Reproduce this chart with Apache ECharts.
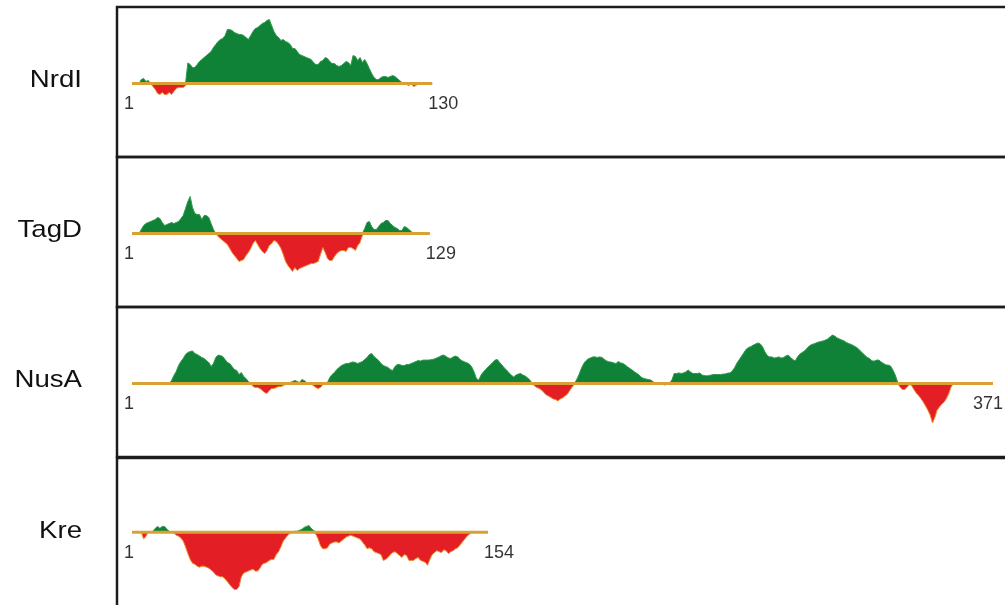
<!DOCTYPE html>
<html>
<head>
<meta charset="utf-8">
<script src="https://cdn.jsdelivr.net/npm/echarts@6/dist/echarts.min.js"></script>
<style>
  html, body { margin: 0; padding: 0; background: #fff; }
  #chart { width: 1005px; height: 605px; }
</style>
</head>
<body>
<div id="chart"></div>
<script>
// Per-residue profile scores (positive = green, negative = red)
const proteins = ['NrdI', 'TagD', 'NusA', 'Kre'];

const nrdI = [
  0, 0, 0, 0, 0.2, 0.25, 0.1, 0.15, 0, -0.15,
  -0.3, -0.5, -0.55, -0.45, -0.55, -0.55, -0.45, -0.55, -0.4, -0.25,
  -0.2, -0.2, -0.2, -0.1, 1.03, 0.95, 0.8, 0.8, 0.95, 1.1,
  1.2, 1.3, 1.4, 1.5, 1.6, 1.8, 1.95, 2.1, 2.2, 2.25,
  2.4, 2.7, 2.7, 2.65, 2.55, 2.5, 2.45, 2.45, 2.4, 2.3,
  2.2, 2.4, 2.6, 2.75, 2.8, 2.9, 3.0, 3.05, 3.15, 3.2,
  2.9, 2.6, 2.4, 2.3, 2.15, 2.2, 2.1, 2.05, 1.95, 1.75,
  1.75, 1.6, 1.45, 1.4, 1.35, 1.3, 1.25, 1.2, 1.05, 0.95,
  0.95, 1.1, 1.15, 1.3, 1.25, 1.1, 1.0, 1.0, 0.9, 0.85,
  0.9, 1.0, 1.1, 1.05, 0.9, 1.4, 1.35, 1.15, 1.3, 1.05,
  1.2, 1.0, 0.75, 0.5, 0.3, 0.2, 0.2, 0.3, 0.35, 0.35,
  0.3, 0.35, 0.4, 0.35, 0.25, 0.15, 0.05, 0, -0.05, -0.1,
  0, -0.15, -0.1, 0, 0, 0, 0, 0, 0, 0
];

const tagD = [
  0, 0, 0, 0, 0.2, 0.4, 0.5, 0.55, 0.6, 0.65,
  0.7, 0.8, 0.75, 0.55, 0.4, 0.45, 0.5, 0.55, 0.5, 0.55,
  0.6, 0.75, 0.9, 1.25, 1.6, 1.85, 1.3, 1.0, 0.95, 0.95,
  0.7, 0.9, 0.9, 0.8, 0.5, 0.2, 0, -0.15, -0.25, -0.35,
  -0.45, -0.55, -0.75, -0.95, -1.1, -1.25, -1.4, -1.35, -1.3, -1.1,
  -0.95, -0.75, -0.5, -0.35, -0.55, -0.75, -0.9, -1.0, -0.85, -0.6,
  -0.5, -0.35, -0.4, -0.55, -0.75, -1.05, -1.4, -1.6, -1.75, -1.9,
  -1.7, -1.85, -1.75, -1.7, -1.65, -1.6, -1.55, -1.5, -1.5, -1.45,
  -1.4, -1.05, -0.7, -0.95, -1.25, -1.35, -1.35, -1.15, -1.0, -0.9,
  -0.85, -0.85, -0.9, -0.7, -0.7, -0.75, -0.85, -0.6, -0.45, -0.1,
  0.25, 0.55, 0.6, 0.35, 0.2, 0.2, 0.35, 0.5, 0.55, 0.65,
  0.65, 0.5, 0.4, 0.3, 0.25, 0.15, 0.15, 0.35, 0.3, 0.2,
  0.1, 0, 0, 0, 0, 0, 0, 0, 0
];

const nusA = [
  0, 0, 0, 0, 0, 0, 0, 0, 0, 0,
  0, 0, 0, 0, 0, 0, 0, 0.15, 0.4, 0.6,
  0.9, 1.1, 1.25, 1.45, 1.55, 1.6, 1.63, 1.5, 1.45, 1.38,
  1.3, 1.25, 1.15, 1.05, 0.85, 1.0, 1.3, 1.42, 1.4, 1.35,
  1.2, 1.05, 1.0, 0.85, 0.7, 0.65, 0.45, 0.55, 0.35, 0.25,
  0.1, 0, -0.15, -0.2, -0.2, -0.25, -0.35, -0.45, -0.5, -0.35,
  -0.25, -0.25, -0.2, -0.15, -0.15, -0.1, -0.05, 0, 0.05, 0.1,
  0.15, 0.1, 0.05, 0.2, 0.15, 0.05, 0, -0.05, -0.1, -0.2,
  -0.25, -0.2, -0.05, 0, 0.05, 0.3, 0.45, 0.55, 0.7, 0.8,
  0.9, 0.95, 1.0, 1.0, 1.05, 1.08, 1.05, 1.0, 1.05, 1.1,
  1.2, 1.3, 1.45, 1.5, 1.35, 1.25, 1.15, 1.0, 0.9, 0.85,
  0.8, 0.7, 0.65, 0.85, 0.95, 0.95, 0.9, 0.9, 0.95, 0.95,
  1.0, 1.05, 1.1, 1.15, 1.12, 1.17, 1.17, 1.17, 1.18, 1.2,
  1.23, 1.28, 1.33, 1.4, 1.42, 1.35, 1.28, 1.25, 1.33, 1.37,
  1.33, 1.2, 1.13, 1.08, 1.03, 0.97, 0.83, 0.58, 0.25, 0.17,
  0.42, 0.58, 0.7, 0.83, 0.93, 1.05, 1.17, 1.2, 1.05, 0.92,
  0.78, 0.67, 0.53, 0.42, 0.33, 0.42, 0.47, 0.5, 0.42, 0.37,
  0.28, 0.17, 0, -0.13, -0.2, -0.25, -0.33, -0.45, -0.57, -0.63,
  -0.7, -0.77, -0.8, -0.87, -0.78, -0.72, -0.63, -0.55, -0.37, -0.2,
  -0.05, 0.17, 0.42, 0.72, 0.97, 1.13, 1.23, 1.28, 1.33, 1.33,
  1.3, 1.33, 1.3, 1.2, 1.13, 1.08, 1.07, 1.03, 1.0, 1.1,
  1.03, 1.0, 0.92, 0.83, 0.75, 0.67, 0.58, 0.5, 0.42, 0.3,
  0.25, 0.22, 0.2, 0.17, 0.08, 0.03, 0, 0, -0.03, -0.08,
  -0.03, 0.03, 0.17, 0.5, 0.5, 0.53, 0.5, 0.53, 0.58, 0.67,
  0.58, 0.5, 0.5, 0.5, 0.53, 0.42, 0.4, 0.38, 0.4, 0.43,
  0.45, 0.45, 0.45, 0.45, 0.47, 0.48, 0.52, 0.53, 0.63, 0.8,
  1.03, 1.2, 1.37, 1.55, 1.72, 1.8, 1.85, 1.92, 1.98, 2.03,
  1.98, 1.83, 1.58, 1.4, 1.33, 1.33, 1.27, 1.3, 1.33, 1.27,
  1.3, 1.38, 1.42, 1.3, 1.2, 1.12, 1.33, 1.47, 1.55, 1.63,
  1.75, 1.87, 1.95, 1.98, 2.03, 2.07, 2.1, 2.13, 2.17, 2.23,
  2.33, 2.42, 2.37, 2.28, 2.23, 2.18, 2.13, 2.05, 2.0, 1.95,
  1.9, 1.83, 1.75, 1.63, 1.52, 1.4, 1.3, 1.25, 1.13, 1.12,
  1.17, 1.17, 1.07, 1.0, 0.93, 0.92, 0.87, 0.67, 0.42, 0.08,
  -0.17, -0.3, -0.3, -0.2, -0.05, -0.1, -0.3, -0.47, -0.6, -0.75,
  -0.92, -1.12, -1.33, -1.58, -1.97, -1.7, -1.33, -1.17, -1.03, -0.93,
  -0.75, -0.5, -0.17, 0, 0, 0, 0, 0, 0, 0,
  0, 0, 0, 0, 0, 0, 0, 0, 0, 0,
  0
];

const kre = [
  0, 0, 0, 0, 0, -0.35, -0.2, 0, 0, 0.05,
  0.2, 0.3, 0.2, 0.3, 0.3, 0.15, 0.05, 0, -0.05, -0.15,
  -0.2, -0.3, -0.45, -0.75, -1.1, -1.4, -1.6, -1.65, -1.75, -1.8,
  -1.75, -1.75, -1.8, -1.85, -1.95, -2.05, -2.2, -2.25, -2.3, -2.3,
  -2.4, -2.55, -2.7, -2.85, -2.95, -2.95, -2.8, -2.3, -2.1, -2.05,
  -2.0, -1.95, -1.9, -2.0, -2.0, -1.85, -1.65, -1.6, -1.55, -1.45,
  -1.4, -1.4, -1.15, -1.0, -0.75, -0.45, -0.3, -0.15, -0.05, 0,
  0.05, 0.05, 0.1, 0.15, 0.25, 0.3, 0.35, 0.2, 0.1, -0.1,
  -0.35, -0.7, -0.85, -0.85, -0.8, -0.6, -0.55, -0.5, -0.5, -0.55,
  -0.45, -0.35, -0.25, -0.2, -0.15, -0.2, -0.25, -0.3, -0.35, -0.5,
  -0.65, -0.85, -0.8, -0.85, -1.0, -1.05, -1.1, -1.15, -1.45, -1.4,
  -1.3, -1.15, -1.05, -1.0, -1.1, -1.2, -1.3, -1.15, -1.2, -1.45,
  -1.45, -1.45, -1.35, -1.3, -1.45, -1.5, -1.55, -1.7, -1.4, -1.15,
  -1.05, -0.95, -1.0, -1.05, -0.9, -0.95, -1.1, -1.0, -0.95, -0.85,
  -0.8, -0.65, -0.5, -0.35, -0.2, -0.1, 0, 0, 0, 0,
  0, 0, 0, 0
];

const profiles = [nrdI, tagD, nusA, kre];

// Layout of the stacked panels
const W = 1005;
const panelTops = [7, 157, 307, 458];
const panelH = 150;
const plotLeft = 132;
const plotWidth = 861;            // residue 1..371 share one x scale
const xMax = 371;
const yHalf = 3.75;               // 20 px per score unit

const GREEN = '#0f8237';
const RED = '#e31e24';
const GOLD = '#dba032';
const FONT = '"Liberation Sans", Arial, Helvetica, sans-serif';
const NUM_SIZE = 18;

const grids = [], xAxes = [], yAxes = [], series = [], graphics = [];

profiles.forEach((vals, k) => {
  const base = panelTops[k] + 76.5;
  const len = vals.length;
  grids.push({ left: plotLeft, width: plotWidth, top: base - panelH / 2, height: panelH });
  xAxes.push({ gridIndex: k, type: 'value', min: 1, max: xMax, show: false });
  yAxes.push({ gridIndex: k, type: 'value', min: -yHalf, max: yHalf, show: false });

  const pos = vals.map((v, i) => [i + 1, Math.max(v, 0)]);
  const neg = vals.map((v, i) => [i + 1, Math.min(v, 0)]);

  series.push({
    type: 'line', xAxisIndex: k, yAxisIndex: k, data: pos,
    showSymbol: false, symbol: 'none', silent: true,
    lineStyle: { width: 1, color: '#2f9a4c' },
    areaStyle: { color: GREEN, opacity: 1 }, z: 2
  });
  series.push({
    type: 'line', xAxisIndex: k, yAxisIndex: k, data: neg,
    showSymbol: false, symbol: 'none', silent: true,
    lineStyle: { width: 1, color: '#ee8a2a' },
    areaStyle: { color: RED, opacity: 1 }, z: 2
  });
  // baseline across the sequence
  series.push({
    type: 'line', xAxisIndex: k, yAxisIndex: k,
    data: [[1, 0], [len, 0]],
    showSymbol: false, symbol: 'none', silent: true,
    lineStyle: { width: 3, color: GOLD }, z: 3
  });

  // keep the end number inside the canvas
  const endX = plotLeft + (len - 1) / (xMax - 1) * plotWidth;
  const endText = String(len);
  const endW = endText.length * NUM_SIZE * 0.556;
  const endLabel = (endX - 4 + endW > W - 2)
    ? { align: 'right', offset: [W - 2 - endX, 21] }
    : { align: 'left', offset: [-4, 21] };

  // residue numbers at both ends
  series.push({
    type: 'scatter', xAxisIndex: k, yAxisIndex: k, silent: true,
    symbolSize: 0, z: 4,
    data: [
      { value: [1, 0], label: { align: 'center', offset: [-3, 21] } },
      { value: [len, 0], label: endLabel }
    ],
    label: {
      show: true, position: 'inside', verticalAlign: 'middle',
      formatter: p => String(p.value[0]),
      fontSize: NUM_SIZE, fontFamily: FONT, color: '#000'
    }
  });

  graphics.push({
    type: 'rect', silent: true, z: 10,
    shape: { x: 117, y: panelTops[k], width: 950, height: panelH },
    style: { fill: 'none', stroke: '#1c1c1c', lineWidth: 2.5 }
  });
  graphics.push({
    type: 'text', silent: true, z: 10,
    x: 82, y: base - 3, scaleX: 1.15,
    style: {
      text: proteins[k], font: '24px ' + FONT, fill: '#111',
      textAlign: 'right', textVerticalAlign: 'middle',
      align: 'right', verticalAlign: 'middle'
    }
  });
});

const chart = echarts.init(document.getElementById('chart'), null, { renderer: 'canvas' });
chart.setOption({
  backgroundColor: '#ffffff',
  animation: false,
  grid: grids,
  xAxis: xAxes,
  yAxis: yAxes,
  series: series,
  graphic: graphics
});
</script>
</body>
</html>
